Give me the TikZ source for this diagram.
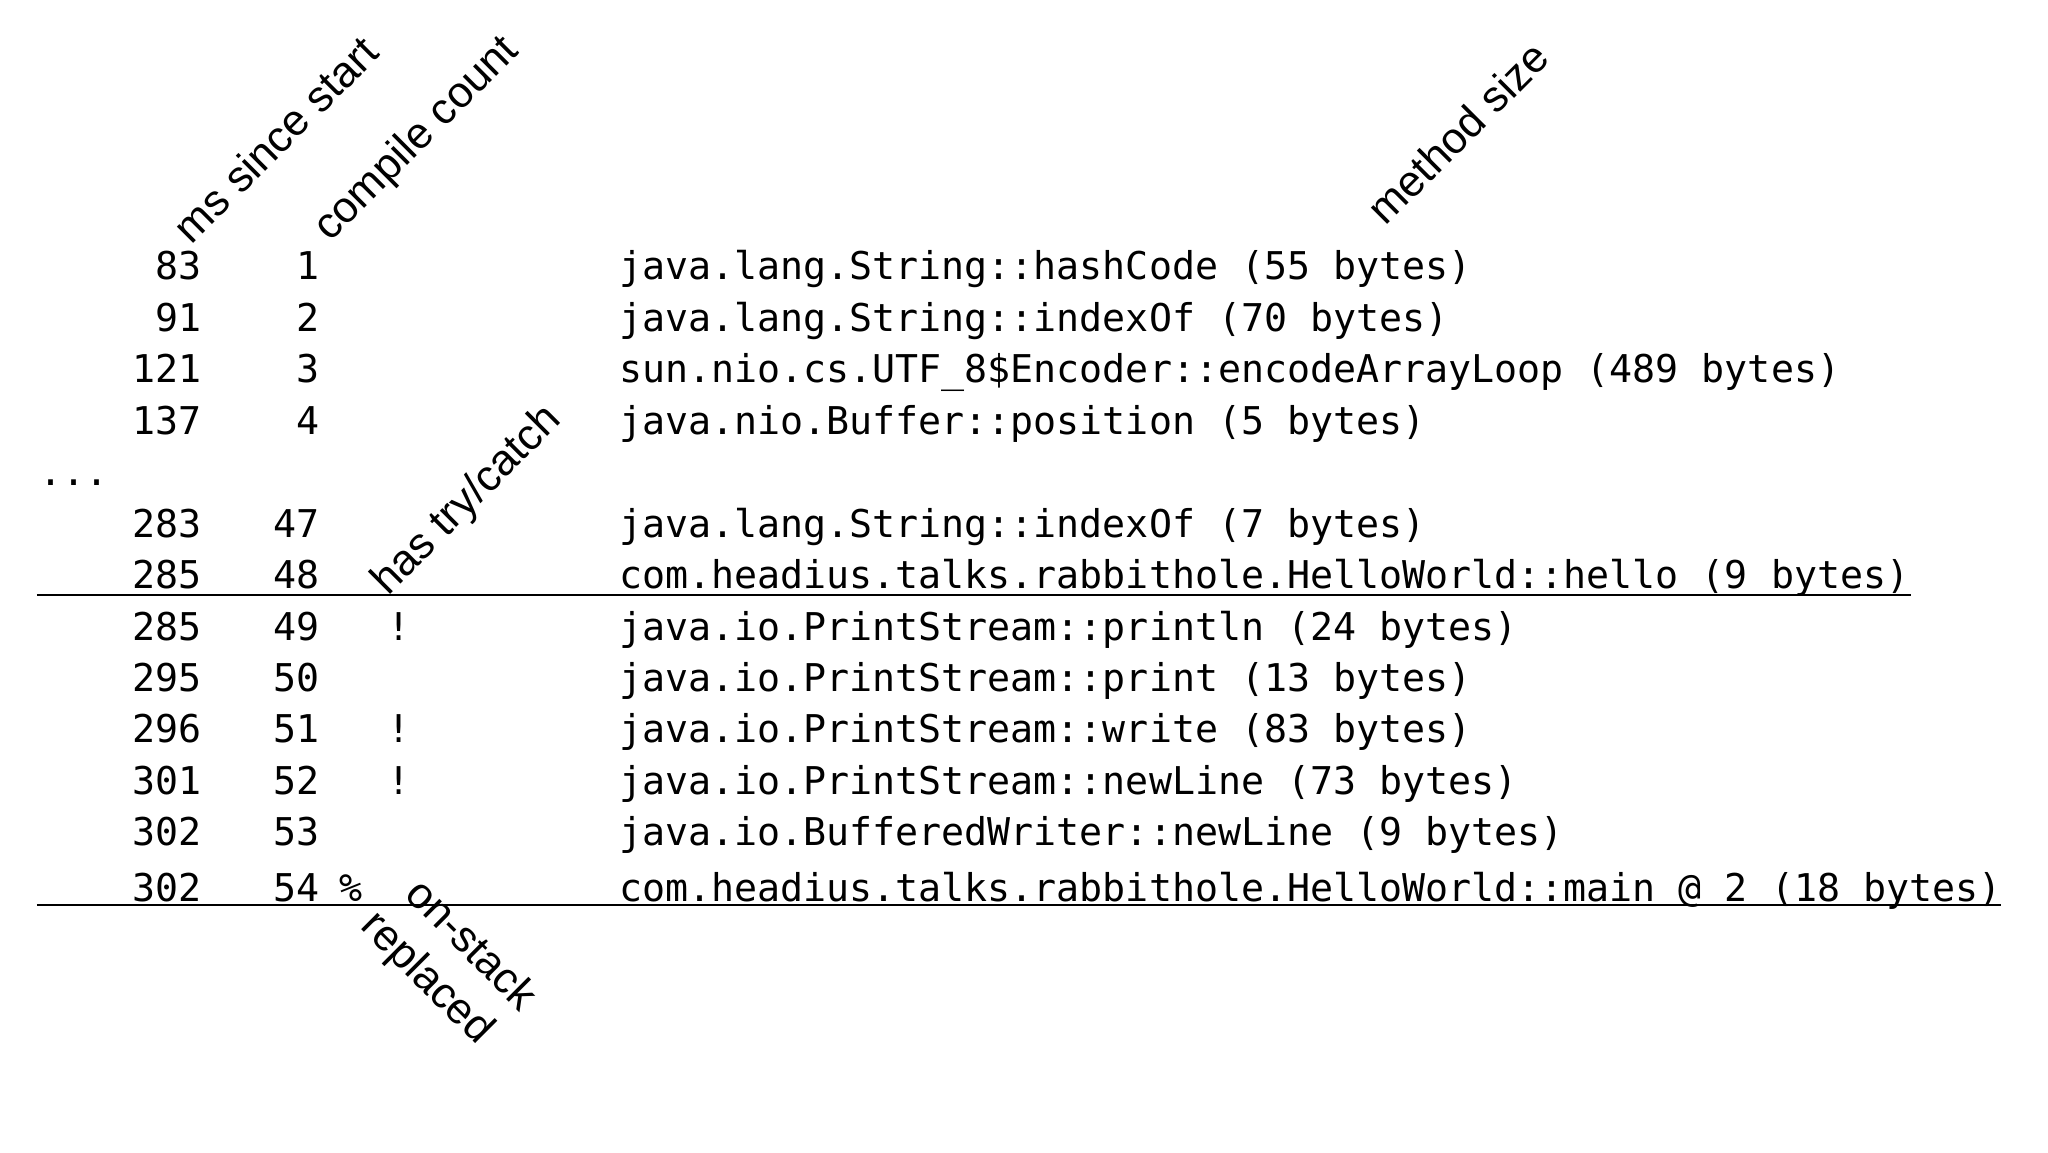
\documentclass[tikz,border=0pt]{standalone}
\usepackage{fontspec}
\setmainfont{Liberation Sans}
\newfontfamily\monof{DejaVu Sans Mono}
\begin{document}
\begin{tikzpicture}[x=1pt,y=-1pt,
  mono/.style={font=\monof\fontsize{29}{31}\selectfont, inner sep=0pt},
  lbl/.style={font=\fontsize{33}{35}\selectfont, inner sep=0pt, anchor=base west},
  rule/.style={line width=1.6pt}]
\useasboundingbox (0,0) rectangle (1552,873);
\foreach \i/\y/\ms/\cc/\fl/\txt in {
 1/206/83/1//java.lang.String::hashCode (55 bytes),
 2/245/91/2//java.lang.String::indexOf (70 bytes),
 3/284/121/3//sun.nio.cs.UTF\_8\$Encoder::encodeArrayLoop (489 bytes),
 4/323/137/4//java.nio.Buffer::position (5 bytes),
 5/401/283/47//java.lang.String::indexOf (7 bytes),
 6/440/285/48//com.headius.talks.rabbithole.HelloWorld::hello (9 bytes),
 7/479/285/49/!/java.io.PrintStream::println (24 bytes),
 8/518/295/50//java.io.PrintStream::print (13 bytes),
 9/557/296/51/!/java.io.PrintStream::write (83 bytes),
 10/596/301/52/!/java.io.PrintStream::newLine (73 bytes),
 11/635/302/53//java.io.BufferedWriter::newLine (9 bytes)}{
  \node[mono,anchor=base east] (ms\i) at (153,\y+6) {\ms};
  \node[mono,anchor=base east] (cc\i) at (242,\y+6) {\cc};
  \node[mono,anchor=base] (fl\i) at (302,\y+6) {\fl};
  \node[mono,anchor=base west] (tx\i) at (469,\y+6) {\txt};
}
\node[mono,anchor=base east] (ms12) at (153,683) {302};
\node[mono,anchor=base east] (cc12) at (242,683) {54};
\node[mono,anchor=base west] (pc) at (257,683) {\%};
\node[mono,anchor=base west] (tx12) at (469,683) {com.headius.talks.rabbithole.HelloWorld::main @ 2 (18 bytes)};
\node[mono,anchor=base west] (dots) at (30,368) {...};
\coordinate (l1a) at (28,451); \coordinate (l1b) at (1448,451);
\coordinate (l2a) at (28,686); \coordinate (l2b) at (1516,686);
\draw[rule] (l1a) -- (l1b);
\draw[rule] (l2a) -- (l2b);
\node[lbl,rotate=45] (h1) at (145,186) {ms since start};
\node[lbl,rotate=45] (h2) at (250,184) {compile count};
\node[lbl,rotate=45] (h3) at (1050,172) {method size};
\node[lbl,rotate=45] (h4) at (294,452) {has try/catch};
\node[lbl,rotate=-45] (h5) at (306,679) {on-stack};
\node[lbl,rotate=-45] (h6) at (272,703) {replaced};
\end{tikzpicture}
\end{document}
